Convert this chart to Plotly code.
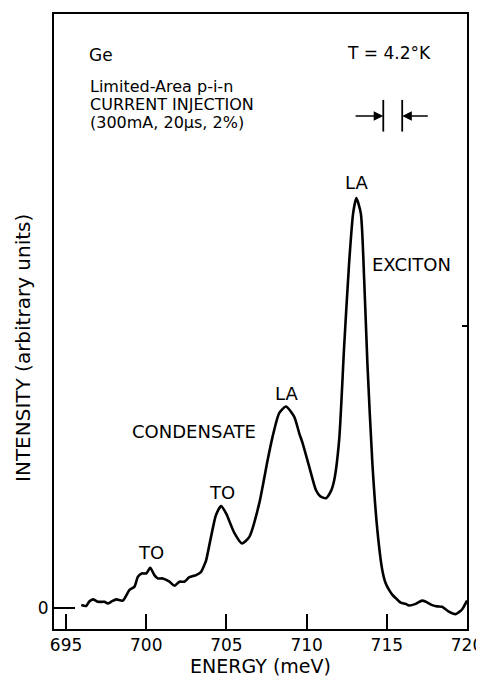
import plotly.graph_objects as go

# ---- data ----
energy_mev = [695.95, 696.26, 696.45, 696.68, 696.99, 697.4, 697.6, 697.85, 698.13, 698.54,
              698.96, 699.27, 699.48, 699.72, 700.0, 700.25, 700.51, 700.72, 701.03, 701.45,
              701.76, 702.07, 702.38, 702.69, 703.11, 703.42, 703.63, 703.73, 704.04, 704.35,
              704.67, 704.98, 705.5, 705.97, 706.43, 707.05, 707.57, 707.88, 708.29, 708.71,
              709.23, 709.54, 709.75, 710.16, 710.58, 710.85, 711.2, 711.5, 711.72, 712.03,
              712.34, 712.65, 712.9, 713.1, 713.38, 713.59, 713.79, 714.1, 714.41, 714.72,
              714.93, 715.14, 715.35, 715.56, 715.87, 716.18, 716.38, 716.8, 717.2, 717.45,
              717.83, 718.14, 718.45, 718.87, 719.29, 719.5, 719.7, 720.0]
intensity = [0.7, 0.5, 1.6, 2.1, 1.5, 1.5, 1.1, 1.6, 2.1, 1.8,
             4.4, 5.2, 7.6, 8.4, 8.4, 9.8, 8.0, 7.2, 7.2, 6.4,
             5.4, 6.4, 6.4, 7.5, 8.0, 8.8, 10.5, 11.5, 17.3, 22.6,
             24.8, 23.0, 18.2, 15.7, 17.3, 25.5, 36.0, 41.7, 47.4, 49.0,
             46.5, 42.5, 40.1, 34.4, 28.7, 27.2, 26.7, 28.3, 31.1, 40.9,
             63.6, 83.9, 96.0, 99.7, 96.0, 79.8, 59.5, 35.2, 19.0, 9.2,
             6.0, 4.4, 3.2, 2.4, 1.3, 1.0, 0.6, 1.0, 1.8, 1.5,
             0.7, 0.4, 0.3, -0.9, -1.5, -1.0, -0.3, 1.8]

x_tick_vals = [695, 700, 705, 710, 715, 720]
x_tick_text = ["695", "700", "705", "710", "715", "720"]
y_tick_vals = [0]
y_tick_text = ["0"]
right_tick_vals = [68.6]

resolution_mev = [714.78, 715.96]   # spectral resolution bars

X_RANGE = [694.25, 720.0]
Y_RANGE = [-5.11, 144.5]
FONT = "DejaVu Sans"

fig = go.Figure()
fig.add_trace(go.Scatter(
    x=energy_mev, y=intensity, mode="lines",
    line=dict(color="black", width=2.6, shape="spline", smoothing=0.6),
    showlegend=False, hoverinfo="skip"))
# invisible trace to activate the right-hand axis
fig.add_trace(go.Scatter(x=[energy_mev[0]], y=[intensity[0]], yaxis="y2",
                         mode="markers", marker=dict(opacity=0),
                         showlegend=False, hoverinfo="skip"))

ann = []
def label(x, y, t, xa="center", size=18):
    ann.append(dict(x=x, y=y, xref="x", yref="y", text=t, showarrow=False,
                    xanchor=xa, yanchor="middle",
                    font=dict(family=FONT, size=size, color="black")))

label(696.29, 134.5, "Ge", "left", 17)
label(696.35, 126.8, "Limited-Area p-i-n", "left", 16)
label(696.35, 122.4, "CURRENT INJECTION", "left", 16)
label(696.35, 118.0, "(300mA, 20µs, 2%)", "left", 16)
label(712.37, 135.0, "T = 4.2°K", "left", 17)
label(700.32, 13.4, "TO")
label(704.75, 28.0, "TO")
label(702.96, 42.9, "CONDENSATE")
label(708.77, 52.2, "LA")
label(713.1, 103.6, "LA")
label(716.53, 83.6, "EXCITON")

# y-axis title placed as a rotated annotation
ann.append(dict(x=-0.075, y=0.457, xref="paper", yref="paper",
                text="INTENSITY (arbitrary units)", textangle=-90, showarrow=False,
                xanchor="center", yanchor="middle",
                font=dict(family=FONT, size=20, color="black")))

# resolution arrows
for tip, tail in [(resolution_mev[0], 712.96), (resolution_mev[1], 717.65)]:
    ann.append(dict(x=tip, y=119.7, ax=tail, ay=119.7, xref="x", yref="y",
                    axref="x", ayref="y", text="", showarrow=True,
                    arrowhead=2, arrowsize=1.2, arrowwidth=1.6, arrowcolor="black"))

shapes = []
for r in resolution_mev:
    shapes.append(dict(type="line", xref="x", yref="y", x0=r, x1=r, y0=115.9, y1=123.6,
                       line=dict(color="black", width=1.8)))

# page body adds an 8 px offset, so the figure is sized to fit the window
fig.update_layout(
    width=476, height=669,
    margin=dict(l=46, r=17, t=6, b=48),
    paper_bgcolor="white", plot_bgcolor="white",
    font=dict(family=FONT, size=17, color="black"),
    annotations=ann, shapes=shapes,
    xaxis=dict(range=X_RANGE, tickvals=x_tick_vals, ticktext=x_tick_text,
               ticks="inside", ticklen=15, tickwidth=1.5, tickcolor="black",
               showline=True, linecolor="black", linewidth=2, mirror=True,
               showgrid=False, zeroline=False, automargin=False,
               tickfont=dict(family=FONT, size=17),
               title=dict(text="ENERGY (meV)", font=dict(family=FONT, size=19), standoff=10)),
    yaxis=dict(range=Y_RANGE, tickvals=y_tick_vals, ticktext=y_tick_text,
               ticks="inside", ticklen=21, tickwidth=1.5, tickcolor="black",
               showline=True, linecolor="black", linewidth=2, mirror=True,
               showgrid=False, zeroline=False, automargin=False,
               tickfont=dict(family=FONT, size=17)),
    yaxis2=dict(range=Y_RANGE, overlaying="y", side="right", tickvals=right_tick_vals,
                ticks="inside", ticklen=5, tickwidth=1.5, tickcolor="black",
                showticklabels=False, showline=False, showgrid=False, zeroline=False,
                automargin=False),
)

fig.write_html("out.html")
